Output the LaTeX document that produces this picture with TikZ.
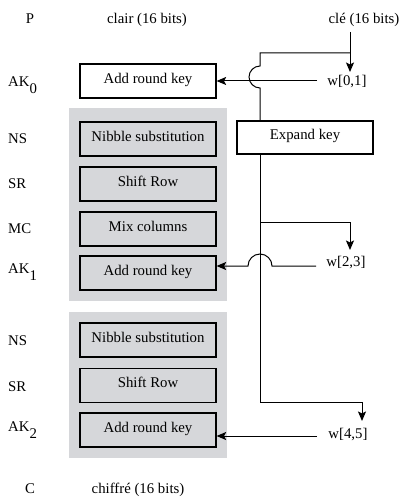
\documentclass[tikz,border=0pt]{standalone}
\usepackage{fontspec}
\setmainfont{Liberation Serif}
\usetikzlibrary{arrows.meta}
\definecolor{panelgray}{RGB}{214,215,218}
\begin{document}
\begin{tikzpicture}[x=1pt,y=-1pt,
  every node/.style={font=\fontsize{14.8}{17}\selectfont},
  opbox/.style={draw=black,line width=1.2pt,minimum width=136pt,minimum height=34pt,inner sep=0pt,text height=0.68em,text depth=0.22em},
  panel/.style={fill=panelgray,draw=none},
  lbl/.style={anchor=base west,inner sep=0pt},
  ctr/.style={anchor=base,inner sep=0pt},
  conn/.style={line width=1pt,draw=black},
  arr/.style={conn,-{Stealth[length=9.5pt,width=8pt,inset=2pt]}}]
\useasboundingbox (0,0) rectangle (401,497);
% panels
\fill[panel] (69,108) rectangle (227,301);
\fill[panel] (69,312) rectangle (227,458);
% top texts
\node[ctr] (P) at (30,24) {P};
\node[ctr] (clair) at (147,24) {clair (16 bits)};
\node[ctr] (cle) at (364,24) {clé (16 bits)};
% boxes
\node[opbox,fill=white] (ak0) at (148,81) {Add round key};
\node[opbox] (ns1) at (148,139) {Nibble substitution};
\node[opbox] (sr1) at (148,184) {Shift Row};
\node[opbox] (mc) at (148,229) {Mix columns};
\node[opbox] (ak1) at (148,273) {Add round key};
\node[opbox] (ns2) at (148,340) {Nibble substitution};
\node[opbox] (sr2) at (148,385.5) {Shift Row};
\node[opbox] (ak2) at (148,430) {Add round key};
\node[opbox,fill=white,minimum height=33pt] (exp) at (305,137.5) {Expand key};
% left labels
\node[lbl] (lak0) at (8,87) {AK\raisebox{-7pt}{0}};
\node[lbl] (lns1) at (8,143) {NS};
\node[lbl] (lsr1) at (8,188) {SR};
\node[lbl] (lmc) at (8,233) {MC};
\node[lbl] (lak1) at (8,273) {AK\raisebox{-7pt}{1}};
\node[lbl] (lns2) at (8,345) {NS};
\node[lbl] (lsr2) at (8,391) {SR};
\node[lbl] (lak2) at (8,431.5) {AK\raisebox{-7pt}{2}};
\node[ctr] (C) at (30,493) {C};
\node[ctr] (chif) at (138,493) {chiffré (16 bits)};
% key words
\node[ctr] (w01) at (347,86) {w[0,1]};
\node[ctr] (w23) at (346,266) {w[2,3]};
\node[ctr] (w45) at (348,438) {w[4,5]};
% connector coordinates
\coordinate (k0) at (350,32);
\coordinate (k1) at (350,53);
\coordinate (t01) at (350,72);
\coordinate (s01) at (317,81);
\coordinate (b1) at (260,222);
\coordinate (t23) at (350,250);
\coordinate (s23) at (316,266);
\coordinate (b2) at (260,402);
\coordinate (t45) at (362,421);
\coordinate (s45) at (317,436);
% key path
\draw[arr] (k0) -- (t01);
\draw[conn] (k1) -- (260,53) -- (260,66)
  .. controls (254,66) and (249,71) .. (249,77)
  .. controls (249,83) and (254,88) .. (260,88) -- (exp.north -| 260,0);
\draw[arr] (s01) -- (ak0.east |- s01);
\draw[arr] (exp.south -| 260,0) -- (b2) -- (b2 -| t45) -- (t45);
\draw[arr] (b1) -- (b1 -| t23) -- (t23);
\draw[arr] (s23) -- (272,266)
  .. controls (272,259.4) and (266.6,254) .. (260,254)
  .. controls (253.4,254) and (248,259.4) .. (248,266) -- (ak1.east |- s23);
\draw[arr] (s45) -- (ak2.east |- s45);
\end{tikzpicture}
\end{document}
